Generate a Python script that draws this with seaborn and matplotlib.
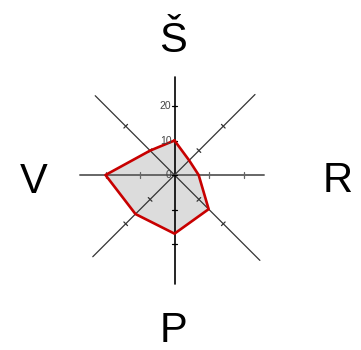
import numpy as np
import pandas as pd
import matplotlib
matplotlib.use("Agg")
import matplotlib.pyplot as plt
import seaborn as sns

# chart data (clockwise from the top axis)
axis_labels = ["Š", "", "R", "", "P", "", "V", ""]
values = [10, 6, 7, 14, 17, 16, 20, 10]
tick_values = [0, 10, 20]

# axis directions in degrees and how far each half-axis line reaches
angles_deg = [90, 45, 0, -45, -90, -135, 180, 135]
axis_reach = [28.5, 33, 26, 35, 31.7, 33.5, 27.3, 32.5]

sns.set_style("white")
plt.rcParams['font.family'] = ['Liberation Sans', 'DejaVu Sans']

fig = plt.figure(figsize=(3.61, 3.5), dpi=100)
ax = fig.add_axes([0, 0, 1, 1])
unit = 3.45
ax.set_xlim(-174.5 / unit, (361 - 174.5) / unit)
ax.set_ylim(-175 / unit, 175 / unit)
ax.set_aspect("equal")
ax.axis("off")

ang = np.radians(angles_deg)
df = pd.DataFrame({"x": np.array(values) * np.cos(ang),
                   "y": np.array(values) * np.sin(ang)})
closed = pd.concat([df, df.iloc[:1]], ignore_index=True)

# filled area
ax.fill(closed["x"], closed["y"], color="#dcdcdc", zorder=1)

# axis lines
line_style = {0: ("#111111", 1.1), 2: ("#666666", 1.3)}
for a, r in zip(ang, axis_reach):
    deg = np.degrees(a) % 180
    if np.isclose(deg, 90):
        col, lw = "#000000", 1.2
    elif np.isclose(deg, 0):
        col, lw = "#666666", 1.4
    else:
        col, lw = "#333333", 0.9
    ax.plot([0, r * np.cos(a)], [0, r * np.sin(a)], color=col, lw=lw, zorder=2)
    # tick marks
    for t in tick_values[1:]:
        cx, cy = t * np.cos(a), t * np.sin(a)
        px, py = -np.sin(a) * 0.75, np.cos(a) * 0.75
        ax.plot([cx - px, cx + px], [cy - py, cy + py], color=col, lw=0.9, zorder=2)

# tick labels on the top axis
for t in tick_values:
    ax.text(-0.9, t, str(t), ha="right", va="center", fontsize=7.5,
            color="#444444", zorder=4)
ax.plot([-0.75, 0.75], [0, 0], color="#000000", lw=0.9, zorder=2)

# outline
sns.lineplot(data=closed, x="x", y="y", sort=False, estimator=None,
             color="#c80000", lw=1.9, ax=ax, zorder=3)
ax.set_xlabel("")
ax.set_ylabel("")

# category labels
label_pos = [(-0.4, 35.7), None, (47.2, -4.8), None, (-0.4, -48.5), None, (-40.8, -5.3), None]
for lab, pos in zip(axis_labels, label_pos):
    if lab:
        ax.text(pos[0], pos[1], lab, ha="center", va="baseline", fontsize=30, color="black")

fig.savefig("out.png", dpi=100)
